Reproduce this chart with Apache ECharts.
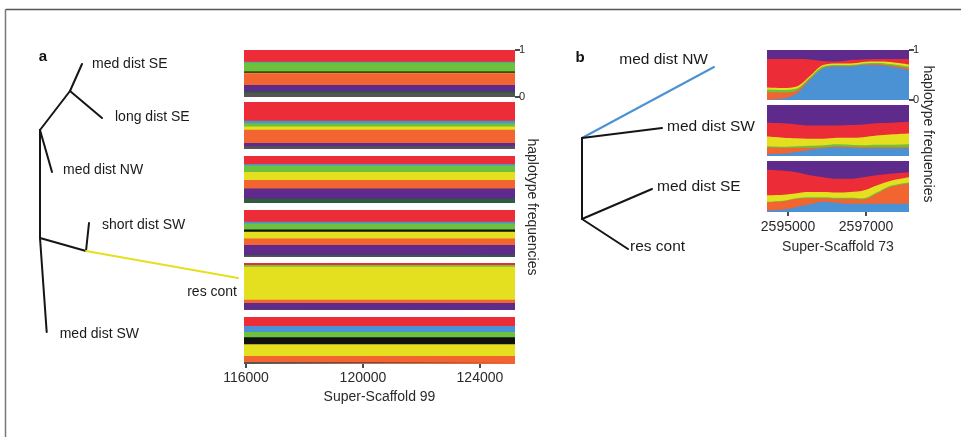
<!DOCTYPE html>
<html><head><meta charset="utf-8">
<script src="https://cdn.jsdelivr.net/npm/echarts@6/dist/echarts.min.js"></script>
<style>html,body{margin:0;padding:0;background:#fff}#c{width:961px;height:437px}</style>
</head><body><div id="c"></div>
<script>
const FONT = 'Liberation Sans, Arial, Helvetica, sans-serif';
const TXT = '#2a2a2a';

// ---------- Panel a : Super-Scaffold 99 (6 strips, fraction per colour, strips top->bottom) ----------
const aXRange = [115930, 125200];
const aTickValues = [116000, 120000, 124000];
const aRed       = [0.25, 0.40, 0.17, 0.25, 0.04, 0.19];
const aBlue      = [0.015, 0.05, 0.03, 0.035, 0.00, 0.13];
const aGreen     = [0.19, 0.07, 0.14, 0.13, 0.04, 0.11];
const aBlack     = [0.03, 0.00, 0.00, 0.05, 0.00, 0.15];
const aYellow    = [0.01, 0.07, 0.17, 0.14, 0.70, 0.25];
const aOrange    = [0.25, 0.28, 0.18, 0.14, 0.07, 0.13];
const aPurple    = [0.13, 0.07, 0.22, 0.21, 0.14, 0.00];
const aDarkGreen = [0.04, 0.00, 0.09, 0.02, 0.00, 0.00];
const aGray      = [0.085, 0.06, 0.00, 0.025, 0.01, 0.04];

// ---------- Panel b : Super-Scaffold 73 (3 strips) ----------
const bX = [2594460, 2594880, 2595220, 2595560, 2595900, 2596250, 2596590, 2596930, 2597270, 2597615, 2598100];
const bTickValues = [2595000, 2597000];
const b1Blue   = [0.01, 0.03, 0.13, 0.40, 0.63, 0.67, 0.67, 0.70, 0.70, 0.67, 0.60];
const b1Orange = [0.15, 0.12, 0.06, 0.02, 0.01, 0.01, 0.01, 0.01, 0.02, 0.02, 0.04];
const b1Green  = [0.05, 0.05, 0.04, 0.03, 0.03, 0.02, 0.02, 0.02, 0.02, 0.03, 0.03];
const b1Yellow = [0.04, 0.04, 0.04, 0.03, 0.03, 0.03, 0.03, 0.03, 0.03, 0.04, 0.04];
const b1Red    = [0.57, 0.58, 0.55, 0.33, 0.08, 0.04, 0.07, 0.05, 0.05, 0.06, 0.11];
const b1Purple = [0.18, 0.18, 0.18, 0.19, 0.22, 0.23, 0.20, 0.19, 0.18, 0.18, 0.18];

const b2Blue   = [0.04, 0.05, 0.08, 0.12, 0.15, 0.17, 0.16, 0.15, 0.15, 0.15, 0.15];
const b2Orange = [0.13, 0.11, 0.08, 0.04, 0.02, 0.02, 0.02, 0.02, 0.02, 0.02, 0.02];
const b2Green  = [0.02, 0.02, 0.03, 0.04, 0.04, 0.04, 0.04, 0.04, 0.05, 0.05, 0.06];
const b2Yellow = [0.19, 0.18, 0.16, 0.14, 0.13, 0.13, 0.14, 0.16, 0.18, 0.20, 0.21];
const b2Red    = [0.27, 0.28, 0.27, 0.26, 0.26, 0.24, 0.25, 0.25, 0.24, 0.23, 0.23];
const b2Purple = [0.35, 0.36, 0.38, 0.40, 0.40, 0.40, 0.39, 0.38, 0.36, 0.35, 0.33];

const b3Blue   = [0.03, 0.05, 0.10, 0.15, 0.20, 0.18, 0.16, 0.16, 0.16, 0.16, 0.16];
const b3Orange = [0.16, 0.16, 0.16, 0.12, 0.07, 0.08, 0.10, 0.09, 0.20, 0.33, 0.40];
const b3Green  = [0.01, 0.01, 0.01, 0.02, 0.02, 0.02, 0.02, 0.02, 0.02, 0.02, 0.02];
const b3Yellow = [0.13, 0.12, 0.10, 0.10, 0.10, 0.10, 0.11, 0.15, 0.14, 0.10, 0.10];
const b3Red    = [0.50, 0.47, 0.41, 0.33, 0.29, 0.27, 0.26, 0.26, 0.20, 0.14, 0.10];
const b3Purple = [0.17, 0.19, 0.22, 0.28, 0.32, 0.35, 0.35, 0.32, 0.28, 0.25, 0.22];

// ---------- Trees (schematic node positions in tree units) ----------
const treeANodes = {
  r1: [10, 80], nSE: [40, 41], medSE: [52, 14], longSE: [72, 68], medNW: [22, 122],
  r2: [10, 188], nSW: [56, 201], shortSW: [59, 173], resCont: [208, 228], medSW: [16.7, 282]
};
const treeAEdges = [['r1','nSE','k'],['nSE','medSE','k'],['nSE','longSE','k'],['r1','medNW','k'],
  ['r1','r2','k'],['r2','medSW','k'],['r2','nSW','k'],['nSW','shortSW','k'],['nSW','resCont','y']];
const treeALabels = [
  ['medSE','med dist SE','right',10,[0,0]], ['longSE','long dist SE','right',13,[0,-1]],
  ['medNW','med dist NW','right',11,[0,-2]], ['shortSW','short dist SW','right',13,[0,2]],
  ['resCont','res cont','left',1,[0,14]], ['medSW','med dist SW','right',13,[0,2]]
];
const treeBNodes = {
  r1: [22, 88], medNW: [154, 17], medSW: [102, 78], r2: [22, 169], medSE: [92, 139], resCont: [68, 199]
};
const treeBEdges = [['r1','medNW','b'],['r1','medSW','k'],['r1','r2','k'],['r2','medSE','k'],['r2','resCont','k']];
const treeBLabels = [
  ['medNW','med dist NW','left',6,[0,-7]], ['medSW','med dist SW','right',5,[0,-1]],
  ['medSE','med dist SE','right',5,[0,-2]], ['resCont','res cont','right',2,[0,-2]]
];

const COLORS = {red:'#EC2D38', blue:'#4A92D4', green:'#6CC23C', black:'#111111', yellow:'#E4DF1F',
  orange:'#F26430', purple:'#5E2A8B', darkgreen:'#2E5D3C', gray:'#555555'};
const EDGE = {k:'#151515', y:'#E4DF1F', b:'#4A92D4'};

// ---------- layout ----------
const aTops = [50, 102, 156, 210, 263, 317];
const bTops = [50, 105, 161];
const bHeights = [50, 51, 51];

const grids = [
  {left: 30, top: 50, width: 210, height: 300},
  {left: 560, top: 50, width: 200, height: 220}
];
const xAxes = [
  {gridIndex: 0, type: 'value', min: 0, max: 210, show: false},
  {gridIndex: 1, type: 'value', min: 0, max: 200, show: false}
];
const yAxes = [
  {gridIndex: 0, type: 'value', min: 0, max: 300, inverse: true, show: false},
  {gridIndex: 1, type: 'value', min: 0, max: 220, inverse: true, show: false}
];
const series = [];

function stripYAxis(gi, first) {
  if (!first) return {gridIndex: gi, type: 'value', min: 0, max: 1, show: false};
  return {gridIndex: gi, type: 'value', min: 0, max: 1, interval: 1, position: 'right',
    axisLine: {show: false}, splitLine: {show: false},
    axisTick: {show: true, length: 5, lineStyle: {color: '#111', width: 1.5}},
    axisLabel: {show: true, fontSize: 11, color: TXT, fontFamily: FONT, margin: 4}};
}
function bottomXAxis(gi, min, max, ticks, name, margin, gap) {
  return {gridIndex: gi, type: 'value', min: min, max: max,
    axisLine: {show: false}, splitLine: {show: false},
    axisTick: {show: true, length: 4, customValues: ticks, lineStyle: {color: '#111', width: 1.5}},
    axisLabel: {show: true, customValues: ticks, formatter: v => String(v), fontSize: 14, color: TXT, fontFamily: FONT, margin: margin},
    name: name, nameLocation: 'middle', nameGap: gap,
    nameTextStyle: {fontSize: 14, color: TXT, fontFamily: FONT}};
}

// cumulative stacking done here; each band is drawn as an area from 0 up to its cumulative top,
// topmost band first so lower bands paint over it.
function addStack(gi, xs, bands, smooth) {
  const n = xs.length;
  const cum = [];
  let run = new Array(n).fill(0);
  bands.forEach(([c, vals]) => {
    run = run.map((r, i) => r + vals[i]);
    cum.push([c, run.slice()]);
  });
  cum.reverse().forEach(([c, tops]) => {
    series.push({type: 'line', xAxisIndex: gi, yAxisIndex: gi, symbol: 'none', silent: true,
      smooth: smooth, data: xs.map((x, i) => [x, Math.min(tops[i], 1)]),
      lineStyle: {width: 0}, itemStyle: {color: COLORS[c]},
      areaStyle: {color: COLORS[c], opacity: 1, origin: 'start'}});
  });
}

// Panel a strips
const aOrder = [['gray', aGray], ['darkgreen', aDarkGreen], ['purple', aPurple], ['orange', aOrange],
  ['yellow', aYellow], ['black', aBlack], ['green', aGreen], ['blue', aBlue], ['red', aRed]];
aTops.forEach((t, s) => {
  const gi = grids.length;
  grids.push({left: 244, top: t, width: 271, height: 47});
  if (s === aTops.length - 1) xAxes.push(bottomXAxis(gi, aXRange[0], aXRange[1], aTickValues, 'Super-Scaffold 99', 7, 26));
  else xAxes.push({gridIndex: gi, type: 'value', min: aXRange[0], max: aXRange[1], show: false});
  yAxes.push(stripYAxis(gi, s === 0));
  const bands = aOrder.filter(([c, arr]) => arr[s] > 0).map(([c, arr]) => [c, aXRange.map(() => arr[s])]);
  addStack(gi, aXRange, bands, false);
});

// Panel b strips
const bStrips = [
  [['blue', b1Blue], ['orange', b1Orange], ['green', b1Green], ['yellow', b1Yellow], ['red', b1Red], ['purple', b1Purple]],
  [['blue', b2Blue], ['orange', b2Orange], ['green', b2Green], ['yellow', b2Yellow], ['red', b2Red], ['purple', b2Purple]],
  [['blue', b3Blue], ['orange', b3Orange], ['green', b3Green], ['yellow', b3Yellow], ['red', b3Red], ['purple', b3Purple]]
];
bTops.forEach((t, s) => {
  const gi = grids.length;
  grids.push({left: 767, top: t, width: 142, height: bHeights[s]});
  if (s === bTops.length - 1) xAxes.push(bottomXAxis(gi, bX[0], bX[bX.length - 1], bTickValues, 'Super-Scaffold 73', 8, 28));
  else xAxes.push({gridIndex: gi, type: 'value', min: bX[0], max: bX[bX.length - 1], show: false});
  yAxes.push(stripYAxis(gi, s === 0));
  addStack(gi, bX, bStrips[s], 0.35);
});

// Trees
function addTree(gi, nodes, edges, labels, fontSize) {
  edges.forEach(([a, b, c]) => {
    series.push({type: 'line', xAxisIndex: gi, yAxisIndex: gi, symbol: 'none', silent: true, z: 5,
      data: [nodes[a], nodes[b]], lineStyle: {width: 2, color: EDGE[c], cap: 'round'}});
  });
  series.push({type: 'scatter', xAxisIndex: gi, yAxisIndex: gi, symbolSize: 0, silent: true, z: 6,
    itemStyle: {opacity: 1},
    data: labels.map(([n, text, pos, dist, off]) => ({value: nodes[n],
      label: {show: true, formatter: text, position: pos, distance: dist, offset: off,
        fontSize: fontSize, color: '#1a1a1a', fontFamily: FONT}}))});
}
addTree(0, treeANodes, treeAEdges, treeALabels, 14);
addTree(1, treeBNodes, treeBEdges, treeBLabels, 15.5);

const chart = echarts.init(document.getElementById('c'), null, {renderer: 'canvas'});
chart.setOption({
  animation: false,
  backgroundColor: '#fff',
  grid: grids, xAxis: xAxes, yAxis: yAxes, series: series,
  graphic: [
    {type: 'line', shape: {x1: 5.5, y1: 9.5, x2: 961, y2: 9.5}, style: {stroke: '#555', lineWidth: 1.5}},
    {type: 'line', shape: {x1: 5.5, y1: 9.5, x2: 5.5, y2: 437}, style: {stroke: '#777', lineWidth: 1.5}},
    {type: 'text', x: 43, y: 57, style: {text: 'a', fill: '#111', font: 'bold 15px ' + FONT, textAlign: 'center', textVerticalAlign: 'middle'}},
    {type: 'text', x: 580, y: 58, style: {text: 'b', fill: '#111', font: 'bold 15px ' + FONT, textAlign: 'center', textVerticalAlign: 'middle'}},
    {type: 'text', x: 532, y: 207, rotation: -Math.PI / 2, style: {text: 'haplotype frequencies', font: '14px ' + FONT, fill: TXT, textAlign: 'center', textVerticalAlign: 'middle'}},
    {type: 'text', x: 928, y: 134, rotation: -Math.PI / 2, style: {text: 'haplotype frequencies', font: '14px ' + FONT, fill: TXT, textAlign: 'center', textVerticalAlign: 'middle'}}
  ]
});
</script></body></html>
